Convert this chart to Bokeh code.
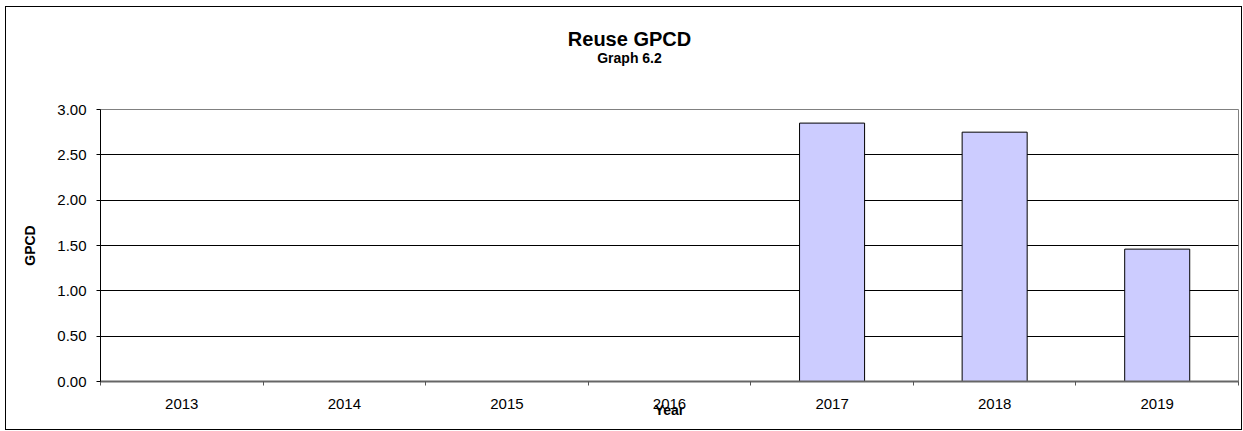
from bokeh.plotting import figure
from bokeh.layouts import column
from bokeh.models import FixedTicker, Range1d, Label, NumeralTickFormatter, ColumnDataSource
from bokeh.embed import file_html
from bokeh.resources import INLINE

years = ["2013", "2014", "2015", "2016", "2017", "2018", "2019"]
gpcd = [0.0, 0.0, 0.0, 0.0, 2.85, 2.75, 1.46]
y_ticks = [0.0, 0.5, 1.0, 1.5, 2.0, 2.5, 3.0]

FONT = "Liberation Sans"
W = 1235
TOP_H = 92
MAIN_H = 330

# ---- header figure (titles) ----
head = figure(width=W, height=TOP_H, output_backend="svg", toolbar_location=None,
              x_range=Range1d(0, 1), y_range=Range1d(0, 1),
              min_border_left=0, min_border_right=0, min_border_top=0, min_border_bottom=0)
head.axis.visible = False
head.grid.visible = False
head.outline_line_color = None
head.add_layout(Label(x=529, y=61, x_units="screen", y_units="screen", text="Reuse GPCD",
                      text_font=FONT, text_font_size="20px", text_font_style="bold",
                      text_align="center", text_baseline="middle", text_color="#000000"))
head.add_layout(Label(x=529, y=42, x_units="screen", y_units="screen", text="Graph 6.2",
                      text_font=FONT, text_font_size="14px", text_font_style="bold",
                      text_align="center", text_baseline="middle", text_color="#000000"))

# ---- main chart ----
p = figure(width=W, height=MAIN_H, output_backend="svg", toolbar_location=None,
           x_range=Range1d(0, len(years)), y_range=Range1d(0, 3),
           min_border_left=94, min_border_right=3, min_border_top=10, min_border_bottom=48)

pos = [i + 0.5 for i in range(len(years))]
src = ColumnDataSource(dict(x=pos, top=gpcd))
p.vbar(x="x", top="top", width=0.4, bottom=0, source=src,
       fill_color="#CCCCFF", line_color="#000000", line_width=1)

# x axis
p.xaxis.ticker = FixedTicker(ticks=pos, minor_ticks=list(range(len(years) + 1)))
p.xaxis.major_label_overrides = {x: y for x, y in zip(pos, years)}
p.xaxis.major_tick_line_color = None
p.xaxis.major_tick_out = 0
p.xaxis.major_tick_in = 0
p.xaxis.minor_tick_out = 4
p.xaxis.minor_tick_in = 0
p.xaxis.minor_tick_line_color = "#555555"
p.xaxis.axis_line_color = "#666666"
p.xaxis.axis_line_width = 2
p.xaxis.major_label_standoff = 13
p.xaxis.major_label_text_font = FONT
p.xaxis.major_label_text_font_size = "15px"
p.xaxis.major_label_text_color = "#000000"
p.xaxis.axis_label = "Year"
p.xaxis.axis_label_text_font = FONT
p.xaxis.axis_label_text_font_size = "14px"
p.xaxis.axis_label_text_font_style = "bold"
p.xaxis.axis_label_text_color = "#000000"
p.xaxis.axis_label_standoff = -10

# y axis
p.yaxis.ticker = FixedTicker(ticks=y_ticks, minor_ticks=[])
p.yaxis.formatter = NumeralTickFormatter(format="0.00")
p.yaxis.major_tick_out = 4
p.yaxis.major_tick_in = 0
p.yaxis.major_tick_line_color = "#000000"
p.yaxis.axis_line_color = "#000000"
p.yaxis.major_label_standoff = 10
p.yaxis.major_label_text_font = FONT
p.yaxis.major_label_text_font_size = "15px"
p.yaxis.major_label_text_color = "#000000"
p.yaxis.axis_label = "GPCD"
p.yaxis.axis_label_text_font = FONT
p.yaxis.axis_label_text_font_size = "14px"
p.yaxis.axis_label_text_font_style = "bold"
p.yaxis.axis_label_text_color = "#000000"
p.yaxis.axis_label_standoff = 16

p.xgrid.grid_line_color = None
p.ygrid.grid_line_color = "#000000"
p.ygrid.grid_line_alpha = 1.0
p.outline_line_color = "#808080"
p.outline_line_width = 1

layout = column(head, p, spacing=0,
                styles={"border": "1px solid #000000", "margin-left": "5px", "margin-top": "6px"})

open("out.html", "w").write(file_html(layout, INLINE))
